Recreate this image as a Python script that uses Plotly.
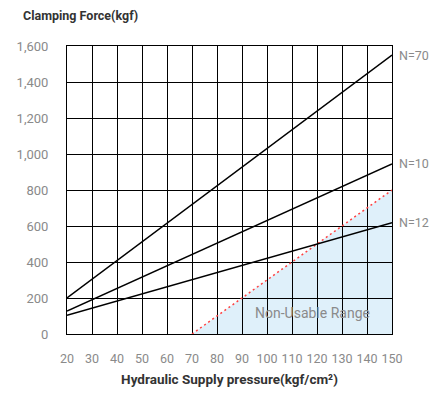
import plotly.graph_objects as go

# pressure (kgf/cm2) at the two ends of each line
pressure = [20, 150]
force_n70 = [200, 1550]
force_n100 = [128, 945]
force_n125 = [104, 618]
series_names = ["N=70", "N=100", "N=125"]

# non-usable boundary
limit_pressure = [70, 150]
limit_force = [0, 800]

x_ticks = list(range(20, 151, 10))

FONT = "Roboto, sans-serif"
GRAY = "#8a8a8a"

fig = go.Figure()

# light blue non-usable area, kept under the grid
path = (f"M {limit_pressure[0]},{limit_force[0]} "
        f"L {limit_pressure[1]},{limit_force[1]} "
        f"L {limit_pressure[1]},{limit_force[0]} Z")
fig.add_shape(type="path", path=path, xref="x", yref="y",
              fillcolor="#dff0fa", line_width=0, layer="below")

fig.add_trace(go.Scatter(x=limit_pressure, y=limit_force, mode="lines",
                         line=dict(color="#ff4040", width=1.5, dash="2px,3px"),
                         hoverinfo="skip"))

for name, ys in zip(series_names, [force_n70, force_n100, force_n125]):
    fig.add_trace(go.Scatter(x=pressure, y=ys, mode="lines", name=name,
                             line=dict(color="black", width=1.5)))
    fig.add_annotation(x=pressure[-1], y=ys[-1], text=name, showarrow=False,
                       xanchor="left", xshift=5,
                       font=dict(family=FONT, size=12.5, color=GRAY))

fig.add_annotation(x=118, y=117, text="Non-Usable Range", showarrow=False,
                   font=dict(family=FONT, size=14, color=GRAY))

fig.add_annotation(x=0, y=1, xref="paper", yref="paper", xshift=-46, yshift=31,
                   text="<b>Clamping Force(kgf)</b>", showarrow=False,
                   xanchor="left", yanchor="middle",
                   font=dict(family=FONT, size=12.5, color="#333333"))

# the page body adds 8px, so the figure is sized to end at the window edge
fig.update_layout(
    width=429, height=386,
    margin=dict(l=59, r=45, t=38, b=60),
    paper_bgcolor="white", plot_bgcolor="white",
    showlegend=False,
    xaxis=dict(range=[20, 150], tickvals=x_ticks, showgrid=True,
               gridcolor="black", gridwidth=1, zeroline=False,
               showline=True, linecolor="black", linewidth=1, mirror=True,
               ticks="", ticklabelstandoff=13, tickangle=0, automargin=False,
               tickfont=dict(family=FONT, size=12.5, color=GRAY),
               title=dict(text="<b>Hydraulic Supply pressure(kgf/cm²)</b>",
                          standoff=9,
                          font=dict(family=FONT, size=13.5, color="#333333"))),
    yaxis=dict(range=[0, 1600], dtick=200, tickformat=",", showgrid=True,
               gridcolor="black", gridwidth=1, zeroline=False,
               showline=True, linecolor="black", linewidth=1, mirror=True,
               ticks="", ticklabelstandoff=15, automargin=False,
               tickfont=dict(family=FONT, size=13, color=GRAY)),
)

fig.write_html("out.html")
